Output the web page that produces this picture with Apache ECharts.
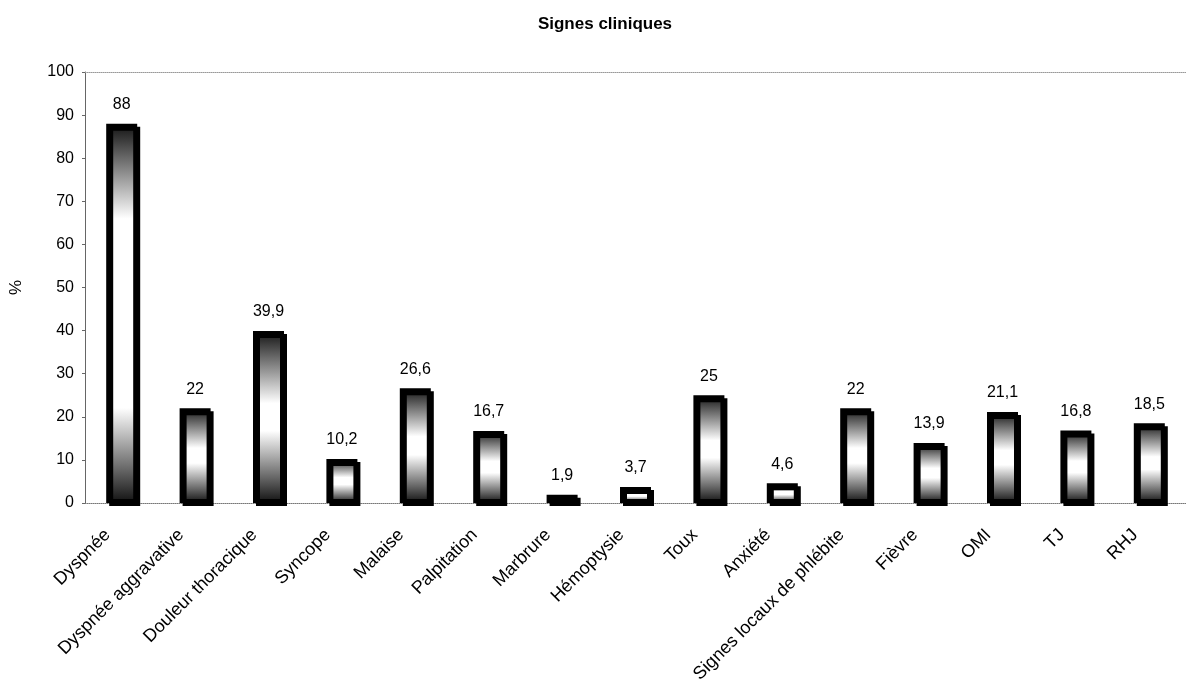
<!DOCTYPE html>
<html>
<head>
<meta charset="utf-8">
<script src="https://cdn.jsdelivr.net/npm/echarts@6/dist/echarts.min.js"></script>
<style>
html,body{margin:0;padding:0;background:#fff;}
#chart{width:1186px;height:695px;}
</style>
</head>
<body>
<div id="chart"></div>
<script>
const categories = ["Dyspnée","Dyspnée aggravative","Douleur thoracique","Syncope","Malaise","Palpitation","Marbrure","Hémoptysie","Toux","Anxiété","Signes locaux de phlébite","Fièvre","OMI","TJ","RHJ"];
const values = [88, 22, 39.9, 10.2, 26.6, 16.7, 1.9, 3.7, 25, 4.6, 22, 13.9, 21.1, 16.8, 18.5];
const yTicks = [0,10,20,30,40,50,60,70,80,90,100];

const pxPerUnit = 4.31;
function fillFor(v){
  const h = Math.max(v * pxPerUnit, 1);
  const f = Math.min(95, h * 0.42);
  const a = Math.min(0.49, f * 0.35 / h), b = Math.min(0.5, f / h);
  return {
    type:'linear', x:0, y:0, x2:0, y2:1,
    colorStops:[
      {offset:0, color:'#111111'},
      {offset:a, color:'#666666'},
      {offset:b, color:'#ffffff'},
      {offset:1-b, color:'#ffffff'},
      {offset:1-a, color:'#666666'},
      {offset:1, color:'#111111'}
    ]
  };
}

const chart = echarts.init(document.getElementById('chart'), null, {renderer:'canvas'});
const font = 'Arial, "Liberation Sans", sans-serif';
chart.setOption({
  animation:false,
  backgroundColor:'#fff',
  title:{
    text:'Signes cliniques', left:600, top:11, textAlign:'center',
    textStyle:{fontFamily:font, fontSize:17, fontWeight:'bold', color:'#000'}
  },
  grid:{left:85, top:72, width:1107, height:431, containLabel:false},
  xAxis:[{
    type:'category', data:categories, position:'bottom',
    axisLine:{show:true, lineStyle:{color:'#777', type:'dotted', width:1}},
    axisTick:{show:false},
    axisLabel:{
      interval:0, rotate:45, fontFamily:font, fontSize:18, color:'#000',
      margin:15, padding:[0,20,0,0]
    },
    splitLine:{show:false}
  },{
    type:'category', data:categories, position:'top',
    axisLine:{show:true, lineStyle:{color:'#999', type:'dotted', width:1}},
    axisTick:{show:false}, axisLabel:{show:false}, splitLine:{show:false}
  }],
  yAxis:{
    type:'value', min:0, max:100, interval:10,
    name:'%', nameLocation:'middle', nameGap:60, nameRotate:90,
    nameTextStyle:{fontFamily:font, fontSize:17, color:'#000'},
    axisLine:{show:true, lineStyle:{color:'#666', width:1}},
    axisTick:{show:true, length:3, lineStyle:{color:'#666'}},
    axisLabel:{fontFamily:font, fontSize:16, color:'#000', margin:11,
      formatter:function(v){return yTicks.indexOf(v) >= 0 ? String(v) : '';}},
    splitLine:{show:false}
  },
  series:[{
    type:'bar', xAxisIndex:0,
    barWidth:31,
    data: values.map(v => ({value:v, itemStyle:{color:fillFor(v)}})),
    itemStyle:{
      borderColor:'#000', borderWidth:4,
      shadowColor:'#000', shadowBlur:0, shadowOffsetX:3, shadowOffsetY:3
    },
    label:{
      show:true, position:'top', distance:11,
      fontFamily:font, fontSize:16, color:'#000',
      formatter:function(p){return String(p.value).replace('.', ',');}
    }
  }]
});
</script>
</body>
</html>
